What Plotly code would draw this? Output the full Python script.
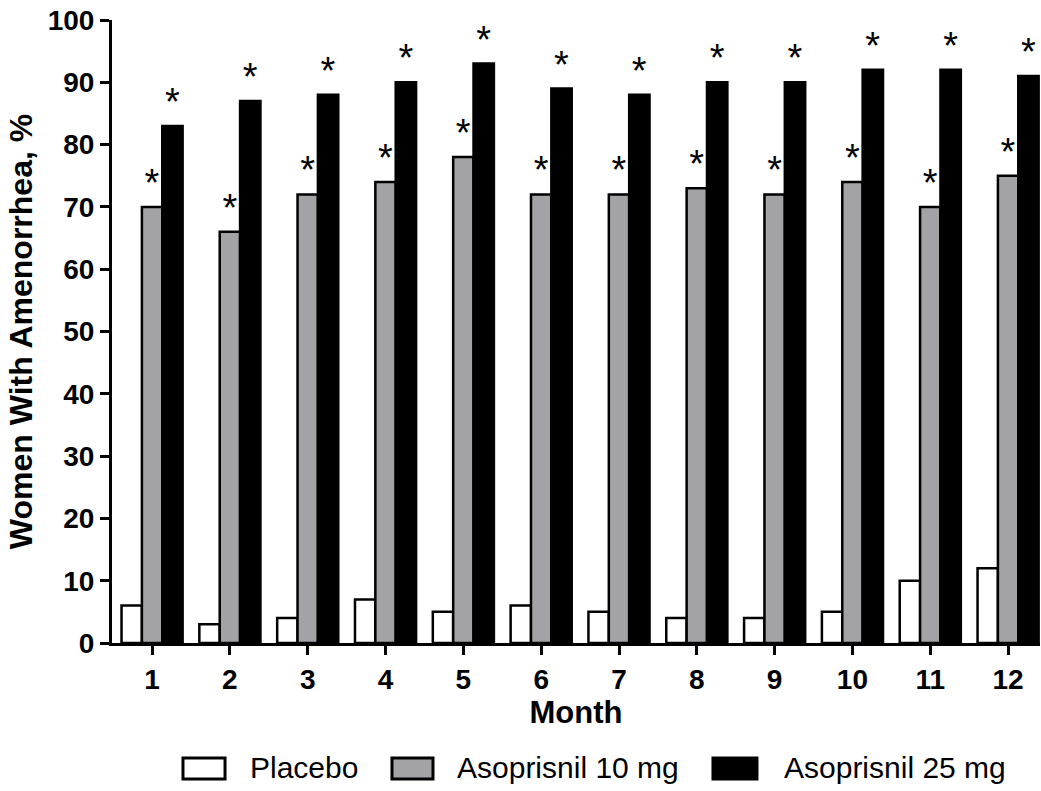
import plotly.graph_objects as go

months = ["1", "2", "3", "4", "5", "6", "7", "8", "9", "10", "11", "12"]
placebo = [6, 3, 4, 7, 5, 6, 5, 4, 4, 5, 10, 12]
aso10 = [70, 66, 72, 74, 78, 72, 72, 73, 72, 74, 70, 75]
aso25 = [83, 87, 88, 90, 93, 89, 88, 90, 90, 92, 92, 91]
y_ticks = [0, 10, 20, 30, 40, 50, 60, 70, 80, 90, 100]
series_names = ["Placebo", "Asoprisnil 10 mg", "Asoprisnil 25 mg"]
series_colors = ["white", "#a3a2a7", "black"]
series_marks = ["", "*", "*"]

FONT = "Liberation Sans, Arial, sans-serif"

fig = go.Figure()
for name, vals, color, star in zip(series_names, [placebo, aso10, aso25], series_colors, series_marks):
    fig.add_trace(go.Bar(
        x=months, y=vals, name=name,
        marker=dict(color=color, line=dict(color="black", width=2.5)),
        text=[star] * len(vals), textposition="outside", constraintext="none",
        textfont=dict(size=38, color="black", family=FONT),
        cliponaxis=False, showlegend=False,
    ))

# Custom legend (large rectangular swatches like the reference)
legend_box_x = [(0.0765, 0.1218), (0.3017, 0.3459), (0.6476, 0.6950)]
legend_text_x = [0.1466, 0.3696, 0.7220]
for (x0, x1), tx, name, color in zip(legend_box_x, legend_text_x, series_names, series_colors):
    fig.add_shape(type="rect", xref="paper", yref="paper",
                  x0=x0, x1=x1, y0=-0.2183, y1=-0.1846,
                  fillcolor=color, line=dict(color="black", width=3))
    fig.add_annotation(xref="paper", yref="paper", x=tx, y=-0.2006,
                       text=name, showarrow=False, xanchor="left", yanchor="middle",
                       font=dict(size=30, family=FONT, color="black"))

fig.update_layout(
    width=1041, height=791,
    margin=dict(l=112, r=1, t=20, b=148),
    paper_bgcolor="white", plot_bgcolor="white",
    barmode="group", bargap=0.215, bargroupgap=0,
    font=dict(family=FONT, color="black"),
    showlegend=False,
)
fig.update_xaxes(
    showline=True, linecolor="black", linewidth=3,
    ticks="outside", ticklen=9, tickwidth=3, tickcolor="black",
    tickfont=dict(size=28, family=FONT, weight="bold"),
    title=dict(text="<b>Month</b>", font=dict(size=31, family=FONT), standoff=8),
    range=[-0.515, 11.41], showgrid=False,
)
fig.update_yaxes(
    range=[0, 100], tickvals=y_ticks,
    showline=True, linecolor="black", linewidth=3,
    ticks="outside", ticklen=9, tickwidth=3, tickcolor="black",
    tickfont=dict(size=28, family=FONT, weight="bold"),
    title=dict(text="<b>Women With Amenorrhea, %</b>", font=dict(size=32, family=FONT), standoff=6),
    showgrid=False, zeroline=False,
)

fig.write_html("out.html")
